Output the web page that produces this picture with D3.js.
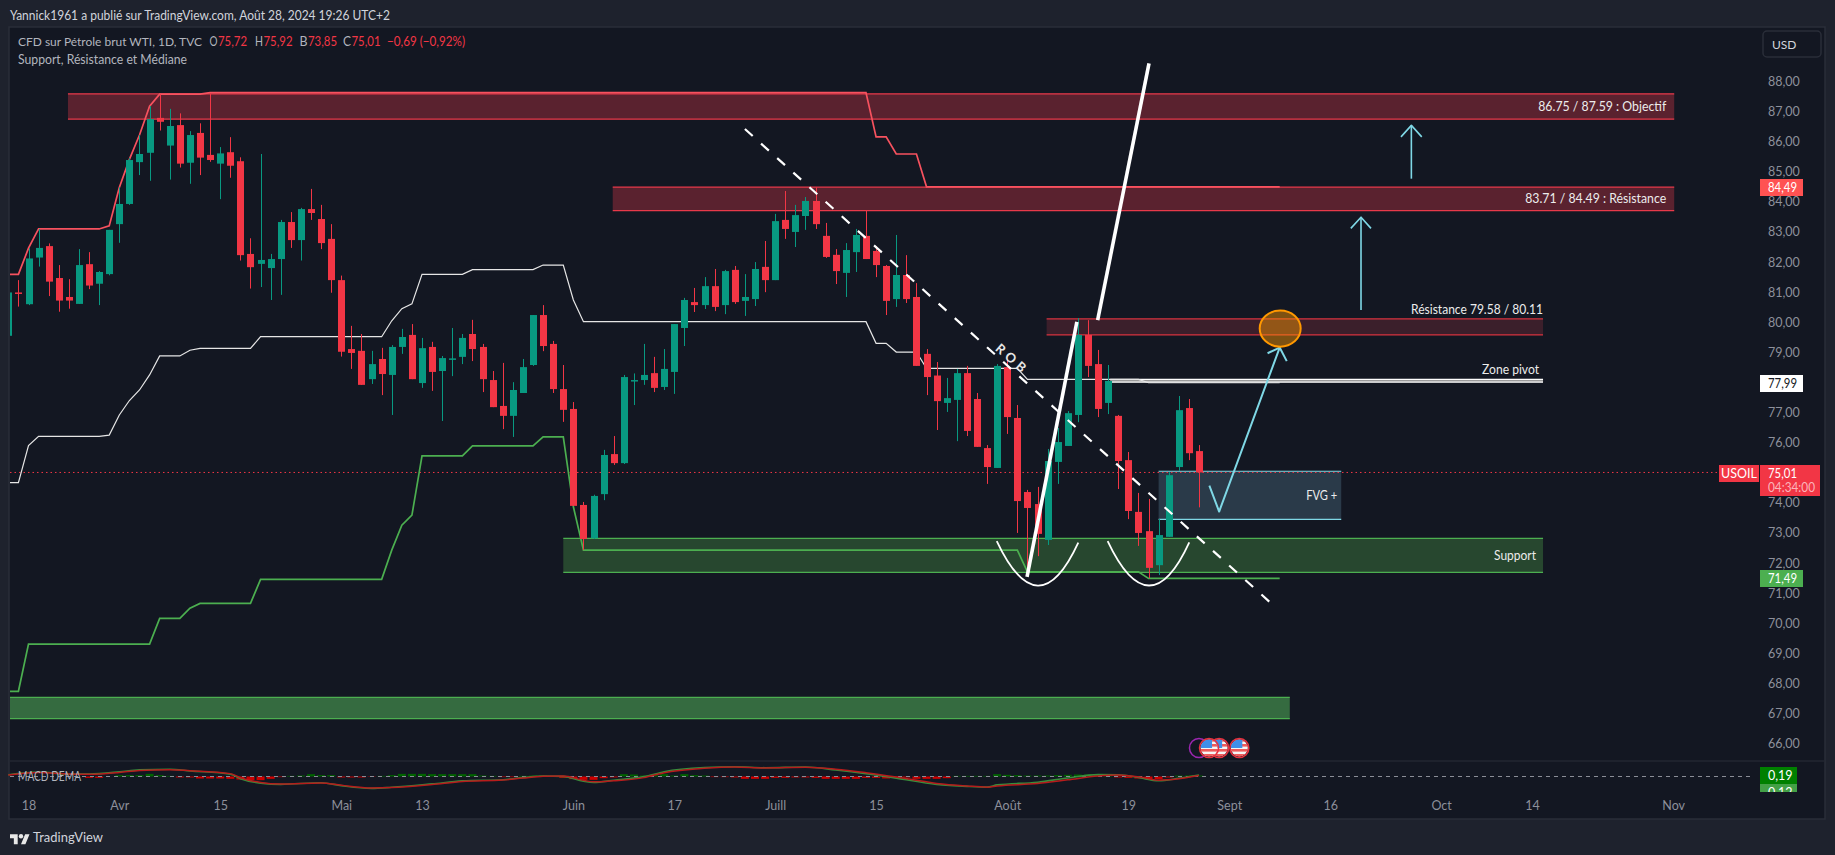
<!DOCTYPE html>
<html><head><meta charset="utf-8">
<style>html,body{margin:0;padding:0;background:#1e222d;overflow:hidden}svg{display:block}
text{font-family:Lato,"Open Sans",sans-serif}</style>
<script src="https://cdn.jsdelivr.net/npm/d3@7"></script></head><body><svg id="c" width="1835" height="855"></svg>
<script>
// bar index runs from -2 (first clipped candle) to 116 (28 Aug 2024)
const firstBar = -2;
const open_ = [79.55,80.99,80.60,82.15,82.53,81.47,80.84,80.61,81.93,81.28,81.60,83.26,83.93,85.32,85.63,86.79,85.87,86.55,85.30,86.29,85.56,85.27,85.65,85.35,82.27,81.94,81.80,82.10,83.33,82.73,83.76,83.43,82.77,81.40,79.11,79.05,78.11,78.78,78.25,79.18,79.58,77.98,79.18,78.38,78.78,78.85,79.61,79.18,78.08,77.22,76.89,77.65,78.58,80.24,79.28,77.78,77.12,73.93,72.82,74.29,75.62,75.32,78.08,78.08,78.31,77.85,78.35,79.81,80.67,80.57,81.20,80.57,81.74,80.71,80.77,81.84,81.40,83.40,83.00,83.53,84.03,82.87,82.24,81.64,82.33,82.87,82.37,81.87,80.77,81.57,80.84,78.95,78.23,77.32,77.42,78.31,77.45,75.82,75.16,78.51,76.82,74.36,73.96,72.77,75.36,75.89,76.92,79.58,78.61,77.32,76.89,75.42,73.70,73.06,71.93,72.87,75.19,77.15,75.72];
const close_ = [80.99,80.98,82.12,82.47,81.35,80.72,80.72,81.90,81.22,81.67,83.07,83.93,85.39,85.59,86.75,86.66,86.52,85.27,86.22,85.47,85.39,85.61,85.20,82.23,81.83,82.07,82.10,83.33,82.73,83.76,83.63,82.63,81.40,79.02,78.98,77.92,78.61,78.28,79.18,79.51,78.11,79.14,78.35,78.81,78.80,79.48,79.11,78.11,77.18,76.89,77.75,78.51,80.24,79.21,77.78,77.09,73.90,72.80,74.23,75.59,75.32,78.18,78.08,78.25,77.82,78.45,79.94,80.74,80.57,81.20,80.51,81.70,80.67,80.84,81.77,81.40,83.36,83.10,83.56,84.03,83.26,82.17,81.70,82.40,82.90,82.10,81.90,80.71,81.57,80.77,78.55,78.18,77.38,77.48,78.31,76.39,75.86,75.19,78.55,76.85,74.06,73.83,72.97,75.39,76.02,76.98,79.58,78.55,77.12,78.05,75.39,73.73,73.00,71.84,72.93,74.92,77.08,75.65,75.01];
const high_ = [80.99,81.40,82.46,83.10,82.62,81.90,81.43,82.43,82.33,81.70,83.07,84.48,85.45,86.22,87.18,87.57,87.09,86.94,86.35,86.61,87.61,85.82,86.15,85.48,82.79,85.59,82.27,83.40,83.66,83.80,84.43,83.90,83.26,81.55,79.88,79.61,79.05,79.15,79.24,79.78,79.94,79.48,79.35,78.88,79.81,79.61,80.08,79.28,78.38,78.65,78.01,78.78,80.24,80.57,79.38,78.58,77.35,74.03,74.27,75.76,76.22,78.25,78.30,79.28,78.85,79.11,79.94,80.81,81.14,81.50,81.77,81.74,81.87,81.60,82.00,82.70,83.60,84.36,83.90,84.16,84.48,83.30,82.43,82.63,83.10,83.70,82.53,81.90,82.90,82.23,81.30,79.11,78.68,78.15,78.45,78.55,77.65,75.92,78.61,78.88,77.25,74.43,74.53,75.79,76.49,77.05,80.14,80.07,79.08,78.58,76.92,75.69,74.33,74.13,73.46,75.02,77.55,77.45,75.92];
const low_ = [79.55,80.52,80.57,81.85,80.87,80.35,80.45,80.61,81.10,80.57,81.56,82.64,83.90,84.89,84.70,86.37,84.74,85.14,84.60,84.89,85.33,84.09,84.80,82.05,81.12,81.17,80.74,80.91,82.47,82.05,83.40,82.43,80.98,78.86,78.45,77.92,77.95,77.58,76.92,78.95,78.11,77.82,77.72,76.72,78.21,78.61,78.71,77.68,77.18,76.45,76.19,77.65,78.55,79.04,77.65,76.69,73.90,72.43,72.80,74.09,75.26,75.29,77.25,77.92,77.68,77.75,77.62,79.21,80.34,80.44,80.37,80.27,80.61,80.21,80.54,81.00,81.40,82.77,82.50,83.07,83.10,82.14,81.27,80.84,81.67,82.10,81.50,80.24,80.51,80.64,78.55,77.58,76.42,77.02,76.05,76.22,75.86,74.63,75.16,76.29,73.00,71.69,72.23,72.60,74.63,75.89,76.68,78.18,76.85,76.95,74.46,73.46,72.57,71.50,71.60,72.87,75.06,75.42,73.85];

// Support, Résistance et Médiane: [bar, price] vertices
const resistanceLine = [[-2,81.59],[-1,81.59],[0,82.46],[1,83.10],[7,83.10],[8,83.20],[9,84.48],[10,85.41],[11,86.22],[12,87.18],[13,87.58],[17,87.58],[18,87.63],[83,87.63],[84,86.16],[85,86.16],[86,85.59],[88,85.59],[89,84.50],[124,84.50]];
const medianLine = [[-2,74.67],[-1,74.67],[0,75.90],[1,76.21],[7,76.21],[8,76.25],[9,76.92],[10,77.40],[11,77.75],[12,78.25],[13,78.88],[15,78.88],[16,79.07],[17,79.13],[22,79.13],[23,79.52],[35,79.52],[36,80.05],[37,80.45],[38,80.61],[39,81.59],[43,81.59],[44,81.75],[50,81.75],[51,81.90],[53,81.90],[54,80.74],[55,80.02],[83,80.02],[84,79.30],[85,79.30],[86,79.01],[88,79.01],[89,78.47],[98,78.47],[99,78.10],[110,78.10],[111,77.99],[124,77.99]];
const supportLine = [[-2,67.74],[-1,67.74],[0,69.31],[12,69.31],[13,70.16],[15,70.16],[16,70.50],[17,70.66],[22,70.66],[23,71.46],[35,71.46],[36,72.43],[37,73.26],[38,73.59],[39,75.56],[43,75.56],[44,75.89],[50,75.89],[51,76.19],[53,76.19],[54,73.87],[55,72.43],[98,72.43],[99,71.71],[110,71.71],[111,71.49],[124,71.49]];

// zones: start bar, end bar, high price, low price
const objectifZone = [3.91,163.1,87.59,86.75];
const resistanceZone = [57.9,163.1,84.49,83.71];
const resistance80Zone = [100.9,150.1,80.11,79.58];
const pivotZone = [107.2,150.1,78.10,78.01];
const supportZone = [53,150.1,72.82,71.69];
const lowZone = [-2,125,67.54,66.83];
const fvgZone = [112,130.1,75.05,73.45];

// drawings
const robLine = [[71.0,86.42],[123.0,70.71]];
const trendA = [[98.96,71.54],[103.9,80.01]];
const trendB = [[105.96,80.07],[111.05,88.60]];
const cupA = [[95.96,72.73],[100.08,69.8],[104.04,72.68]];
const cupB = [[106.95,72.73],[111.08,69.8],[115.04,72.69]];
const pathArrow = [[117.03,74.57],[118,73.71],[124,79.16]];
const pathHead = [[122.8,78.97],[124,79.16],[124.7,78.71]];
const upA = [[132.06,80.41],[132.06,83.49]];
const upAHead = [[131.05,83.12],[132.06,83.49],[133.05,83.12]];
const upB = [[137.05,84.77],[137.05,86.54]];
const upBHead = [[136.02,86.16],[137.05,86.54],[138.08,86.16]];

// axes
const priceTicks = d3.range(66,89);
const timeBars = [0,9,19,31,39,54,64,74,84,97,109,119,129,140,149,163];
const timeLabels = ["18","Avr","15","Mai","13","Juin","17","Juill","15","Août","19","Sept","16","Oct","14","Nov"];

// MACD DEMA
const macdBars = [-2,1,4,6,9,11,14,16,20,21,23,25,29,31,34,36,40,43,47,49,51,53,55,56,58,61,63,67,70,73,77,80,83,86,90,93,95,96,100,103,106,108,110,112,114,116];
const macdLine = [.21,.56,.29,.31,.58,.83,.90,.70,.30,-.27,-.83,-.98,-.78,-1.14,-1.48,-1.35,-.92,-.55,-.40,-.14,.06,.02,-.60,-.75,-.47,-.02,.60,1.12,1.22,1.10,1.19,.82,.36,-.20,-.98,-1.24,-1.33,-1.05,-.72,-.18,.24,.22,-.12,-.54,-.22,.19];
const signalLine = [.19,.50,.31,.27,.50,.75,.85,.73,.36,-.15,-.75,-.94,-.81,-1.10,-1.44,-1.39,-1.00,-.61,-.44,-.20,.02,.06,-.48,-.67,-.53,-.14,.48,1.04,1.20,1.07,1.15,.92,.48,-.06,-.86,-1.18,-1.33,-1.18,-.88,-.42,.06,.18,-.04,-.46,-.28,.12];
const histBars = d3.range(6,117);
const histValues = [-.17,-.17,0,.17,.17,.17,.33,.17,.08,-.12,-.12,-.25,-.25,-.25,-.29,-.38,-.46,-.46,-.29,-.08,.08,.12,.29,.17,.17,-.12,-.12,-.12,-.04,.08,.17,.33,.33,.33,.29,.29,.29,.29,.29,.12,.08,-.08,-.08,.08,.12,.12,-.04,-.17,-.33,-.42,-.42,-.21,-.12,.29,.25,.12,.17,.29,.12,.29,.17,.12,-.08,-.08,-.12,-.29,-.29,-.29,-.17,-.17,-.12,-.12,-.17,-.29,-.29,-.29,-.29,-.17,-.17,-.25,-.12,-.12,-.29,-.29,-.29,-.21,.08,.08,.08,.08,.29,.21,.17,.12,.12,.12,.17,.21,.25,.25,.21,.08,-.12,-.17,-.25,-.33,-.33,-.12,.12,.12,.12];

const bg="#131722", outer="#1e222d", edge="#2a2e39", up="#089981", down="#f23645", axisC="#8d909b", txt="#d1d4dc", cyan="#7fd8e6";
const svg = d3.select("#c");
const x = d3.scaleLinear().domain([0,163]).range([28.5,1673.2]);
const y = d3.scaleLinear().domain([87.59,66]).range([93.8,743.66]);
const yM = d3.scaleLinear().domain([0,1]).range([776.5,768.5]);
const line = d3.line().x(d=>x(d[0])).y(d=>y(d[1]));
const T=(s,px,py,o={})=>{const t=svg.append("text").text(s).attr("x",px).attr("y",py).attr("dy","0.35em")
  .attr("fill",o.fill||txt).attr("font-size",o.size||12.5).attr("text-anchor",o.anchor||"start").attr("font-weight",o.weight||400);
  if(o.len)t.attr("textLength",o.len).attr("lengthAdjust","spacingAndGlyphs");return t;};

// frame
svg.append("rect").attr("width",1835).attr("height",855).attr("fill",outer);
svg.append("rect").attr("x",9).attr("y",27).attr("width",1816).attr("height",792).attr("fill",bg).attr("stroke",edge).attr("stroke-width",1.5);
svg.append("line").attr("x1",10).attr("x2",1824).attr("y1",761).attr("y2",761).attr("stroke",edge);
svg.append("defs").append("clipPath").attr("id","pl").append("rect").attr("x",10).attr("y",28).attr("width",1750).attr("height",732);

const main = svg.append("g").attr("clip-path","url(#pl)");
// zones
const zone=(z,fill,stroke,w=1)=>{
  main.append("rect").attr("x",x(z[0])).attr("width",x(z[1])-x(z[0])).attr("y",y(z[2])).attr("height",y(z[3])-y(z[2])).attr("fill",fill);
  [z[2],z[3]].forEach(v=>main.append("line").attr("x1",x(z[0])).attr("x2",x(z[1])).attr("y1",y(v)).attr("y2",y(v)).attr("stroke",stroke).attr("stroke-width",w));
};
zone(objectifZone,"#5a222f","#e8394a",1.3);
zone(resistanceZone,"#5a222f","#e8394a",1.3);
zone(resistance80Zone,"#3b1f2b","#d8333f",1.3);
zone(supportZone,"#27472f","#4caf50",1.2);
zone(lowZone,"#356b40","#4caf50",1.2);
zone(fvgZone,"#2a3a49",cyan,1.2);
zone(pivotZone,"#9a9a9a","#ffffff",1.3);

// price line
main.append("line").attr("x1",10).attr("x2",1719).attr("y1",y(75.01)).attr("y2",y(75.01)).attr("stroke",down).attr("stroke-width",1).attr("stroke-dasharray","1.5,3");

// indicator lines
main.append("path").attr("d",line(resistanceLine)).attr("fill","none").attr("stroke","#f7525f").attr("stroke-width",1.7);
main.append("path").attr("d",line(medianLine)).attr("fill","none").attr("stroke","#e6e6e6").attr("stroke-width",1.2);
main.append("path").attr("d",line(supportLine)).attr("fill","none").attr("stroke","#4caf50").attr("stroke-width",1.7);

// candles
const bars = open_.map((o,k)=>({i:firstBar+k,o,c:close_[k],h:high_[k],l:low_[k]}));
const cg = main.append("g");
cg.selectAll("line").data(bars).join("line").attr("x1",d=>Math.round(x(d.i))+.5).attr("x2",d=>Math.round(x(d.i))+.5)
  .attr("y1",d=>y(d.h)).attr("y2",d=>y(d.l)).attr("stroke",d=>d.c>=d.o?up:down).attr("stroke-width",1);
cg.selectAll("rect").data(bars).join("rect").attr("x",d=>Math.round(x(d.i))-3).attr("width",7)
  .attr("y",d=>y(Math.max(d.o,d.c))).attr("height",d=>Math.max(1.5,Math.abs(y(d.o)-y(d.c)))).attr("fill",d=>d.c>=d.o?up:down);

// drawings
const draw=(pts,c,w,dash)=>{const p=main.append("path").attr("d",line(pts)).attr("fill","none").attr("stroke",c).attr("stroke-width",w).attr("stroke-linejoin","round");if(dash)p.attr("stroke-dasharray",dash);return p;};
draw(robLine,"#ffffff",2.2,"10.5,11.23");
draw(trendA,"#ffffff",3.6);
draw(trendB,"#ffffff",3.6);
[cupA,cupB].forEach(c=>{const p=d3.path();p.moveTo(x(c[0][0]),y(c[0][1]));p.quadraticCurveTo(x(c[1][0]),y(c[1][1]),x(c[2][0]),y(c[2][1]));
  main.append("path").attr("d",p.toString()).attr("fill","none").attr("stroke","#ffffff").attr("stroke-width",1.8);});
draw(pathArrow,cyan,2);draw(pathHead,cyan,2);
draw(upA,cyan,1.6);draw(upAHead,cyan,1.6);
draw(upB,cyan,1.6);draw(upBHead,cyan,1.6);
main.append("ellipse").attr("cx",x(124.05)).attr("cy",y(79.79)).attr("rx",x(2.03)-x(0)).attr("ry",y(79.19)-y(79.79))
  .attr("fill","#ff9800").attr("fill-opacity",.45).attr("stroke","#ff9800").attr("stroke-width",2);
svg.append("text").text("ROB").attr("transform",`translate(${x(97.5)},${y(78.77)}) rotate(41)`).attr("text-anchor","middle").attr("dy","0.35em")
  .attr("fill","#e6e6e6").attr("font-size",13).attr("font-weight",700).attr("letter-spacing",4);

// zone labels
const W="#ececec";
T("86.75 / 87.59 : Objectif",x(163.1)-8,y(87.17),{anchor:"end",fill:W,size:13,len:128});
T("83.71 / 84.49 : Résistance",x(163.1)-8,y(84.10),{anchor:"end",fill:W,size:13,len:141});
T("Résistance 79.58 / 80.11",x(150.1),309,{anchor:"end",fill:W,size:13,len:132});
T("Zone pivot",x(150.1)-4,369,{anchor:"end",fill:W,size:13,len:57});
T("Support",x(150.1)-7,y(72.255),{anchor:"end",fill:W,size:13,len:42});
T("FVG +",x(130.1)-4,y(74.25),{anchor:"end",fill:W,size:13,len:31});

// events
const eventsFlag=[118,117,120];
const defs=svg.select("defs");
defs.append("clipPath").attr("id","fc").append("circle").attr("r",8.5);
const ey=748;
svg.append("circle").attr("cx",x(116)).attr("cy",ey).attr("r",9.5).attr("fill",bg).attr("stroke","#9c27b0").attr("stroke-width",1.5);
eventsFlag.forEach(b=>{
  const g=svg.append("g").attr("transform",`translate(${x(b)},${ey})`);
  const c=g.append("g").attr("clip-path","url(#fc)");
  c.append("rect").attr("x",-10).attr("y",-10).attr("width",20).attr("height",20).attr("fill","#f5f5f5");
  [-9,-4,1,6].forEach(s=>c.append("rect").attr("x",-10).attr("y",s).attr("width",20).attr("height",2.6).attr("fill","#ee5a5a"));
  c.append("rect").attr("x",-10).attr("y",-10).attr("width",13).attr("height",10).attr("fill","#3f8fe8");
  g.append("circle").attr("r",9.5).attr("fill","none").attr("stroke","#e8323f").attr("stroke-width",1.6);
});

// MACD pane
const mg=svg.append("g");
mg.selectAll("rect").data(histBars).join("rect").attr("x",d=>x(d)-4).attr("width",8)
  .attr("y",(d,k)=>Math.min(yM(0),yM(histValues[k]))).attr("height",(d,k)=>Math.abs(yM(histValues[k])-yM(0)))
  .attr("fill",(d,k)=>histValues[k]>=0?"#006400":"#cc0000");
mg.append("line").attr("x1",10).attr("x2",1754).attr("y1",yM(0)).attr("y2",yM(0)).attr("stroke","#8a8d96").attr("stroke-dasharray","4,4");
const mline=d3.line().x((d,k)=>x(macdBars[k])).y(d=>yM(d)).curve(d3.curveMonotoneX);
mg.append("path").attr("d",mline(macdLine)).attr("fill","none").attr("stroke","#388e3c").attr("stroke-width",1.6);
mg.append("path").attr("d",mline(signalLine)).attr("fill","none").attr("stroke","#b71c1c").attr("stroke-width",1.5);
T("MACD DEMA",18,776.5,{fill:"#b2b5be",size:13,len:63});

// axes built with d3
const yAxis=d3.axisRight(y).tickValues(priceTicks).tickFormat(d=>d3.format(".2f")(d).replace(".",",")).tickSize(0).tickPadding(0);
const ya=svg.append("g").attr("transform","translate(1768,0)").call(yAxis);
ya.select(".domain").remove();
ya.selectAll("text").attr("fill",axisC).attr("font-size",12.5).attr("font-family","Lato");
const xAxis=d3.axisBottom(x).tickValues(timeBars).tickFormat((d,k)=>timeLabels[k]).tickSize(0).tickPadding(0);
const xa=svg.append("g").attr("transform","translate(0,801)").call(xAxis);
xa.select(".domain").remove();
xa.selectAll("text").attr("fill",axisC).attr("font-size",12.5).attr("font-family","Lato");

// price tags
const tag=(x0,w,y0,h,fill)=>svg.append("rect").attr("x",x0).attr("y",y0).attr("width",w).attr("height",h).attr("fill",fill);
tag(1760,43,179,17,"#ff5252");T("84,49",1768,187.5,{fill:"#fff",size:13,len:29});
tag(1760,43,375,17,"#ffffff");T("77,99",1768,383.5,{fill:"#131722",size:13,len:29});
tag(1719,40,465,17,down);T("USOIL",1739,473.5,{fill:"#fff",anchor:"middle"});
tag(1760,60,465,31,down);T("75,01",1768,473,{fill:"#fff",size:13,len:29});T("04:34:00",1768,487,{fill:"#fbb4ba",size:13,len:47});
tag(1760,43,570,17,"#4caf50");T("71,49",1768,578.5,{fill:"#fff",size:13,len:29});
svg.append("clipPath").attr("id","tc").append("rect").attr("x",1760).attr("y",760).attr("width",40).attr("height",32);
const tg=svg.append("g").attr("clip-path","url(#tc)");
tg.append("rect").attr("x",1760).attr("y",784).attr("width",37).attr("height",17).attr("fill","#43a047");
tg.append("text").text("0,12").attr("x",1768).attr("y",792.5).attr("dy","0.35em").attr("fill","#fff").attr("font-size",12.5);
tg.append("rect").attr("x",1760).attr("y",767).attr("width",37).attr("height",17).attr("fill","#008000");
tg.append("text").text("0,19").attr("x",1768).attr("y",775.5).attr("dy","0.35em").attr("fill","#fff").attr("font-size",12.5);

// USD button
svg.append("rect").attr("x",1763).attr("y",31).attr("width",58).attr("height",26).attr("rx",4).attr("fill",bg).attr("stroke",edge).attr("stroke-width",1.5);
T("USD",1772,44.5,{size:12,fill:txt});

// header & legend
T("Yannick1961 a publié sur TradingView.com, Août 28, 2024 19:26 UTC+2",10,15,{size:13,len:380});
T("CFD sur Pétrole brut WTI, 1D, TVC",18,41.5,{fill:"#b2b5be",size:11.6,len:184});
const ohlcLabels=["O","H","B","C"], ohlcVals=["75,72","75,92","73,85","75,01"], ohlcX=[209.5,255,299.5,343];
ohlcLabels.forEach((l,k)=>{T(l,ohlcX[k],41.5,{fill:"#b2b5be",size:13,len:8});T(ohlcVals[k],ohlcX[k]+8.5,41.5,{fill:down,size:13,len:29});});
T("−0,69 (−0,92%)",387,41.5,{fill:down,size:13,len:78});
T("Support, Résistance et Médiane",18,59,{fill:"#b2b5be",size:13,len:169});

// logo
svg.append("path").attr("transform","translate(10,830.5) scale(.55)").attr("fill","#e8e8e8")
  .attr("d","M14 25H7V14H0V7h14v18zM28 25h-8l7.5-18h8L28 25z").attr("fill-rule","evenodd");
svg.append("circle").attr("cx",10+20*.55).attr("cy",830.5+10.5*.55).attr("r",2.2).attr("fill","#e8e8e8");
T("TradingView",33,837.5,{size:14,fill:"#d1d4dc",len:70});
</script></body></html>
